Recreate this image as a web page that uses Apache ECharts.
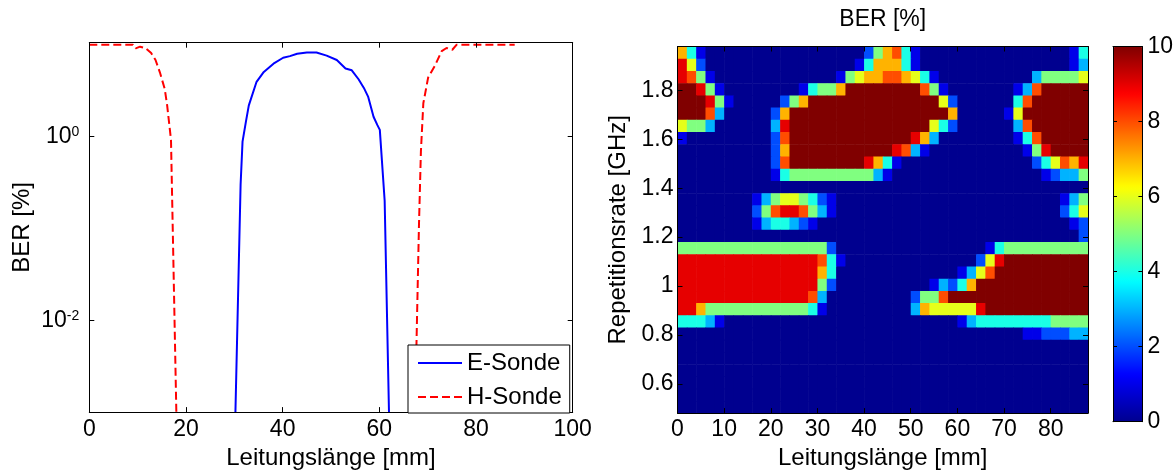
<!DOCTYPE html>
<html>
<head>
<meta charset="utf-8">
<script src="https://cdn.jsdelivr.net/npm/echarts@6/dist/echarts.min.js"></script>
<style>
  html, body { margin: 0; padding: 0; background: #fff; }
  #chart { width: 1176px; height: 475px; }
</style>
</head>
<body>
<div id="chart"></div>
<script>
// BER vs Leitungslänge, E- and H-Sonde (log axis)
var eSondeX = [30.1, 31.3, 31.7, 32.4, 33.0, 34.6, 36.1, 38.1, 40.1, 41.5, 43.0, 45.0, 47.0,
  49.1, 51.2, 53.0, 54.3, 55.7, 56.8, 57.7, 58.8, 59.6, 60.1, 61.1, 62.2];
var eSondeBER = [0.0005, 0.3, 0.88, 1.45, 2.18, 3.94, 5.05, 6.2, 7.2, 7.5, 7.95, 8.2, 8.2,
  7.6, 6.8, 5.5, 5.26, 4.2, 3.38, 2.7, 1.64, 1.33, 1.18, 0.2, 0.0003];
var hSondeX = [0, 2, 4, 6, 8, 9, 9.6, 10.5, 11.6, 12.8, 13.7, 14.6, 15.6, 16.1, 16.9, 18.2,
  40, 67.0, 67.8, 68.2, 68.6, 69.1, 70.1, 71.5, 72.9, 73.9, 75.1, 76.0, 78, 80, 82, 84, 86, 88];
// null = BER 0, nothing drawn on the log axis
var hSondeBER = [10, 10, 10, 10, 10, 10, 9.1, 9.5, 9.2, 8.1, 6.8, 5.0, 3.3, 2.2, 0.92, 0.0003,
  null, 0.0001, 0.011, 0.11, 0.69, 2.3, 4.4, 5.9, 8.5, 9.2, 8.8, 10, 10, 10, 10, 10, 10, 10];
var logTicks = [0.01, 1];

// BER map: cell centres (mm / GHz), one string per row, top row first
// '0'..'9' = BER in %, 'A' = 10 ; spaces only group the columns by ten
var berX = [1, 3, 5, 7, 9, 11, 13, 15, 17, 19, 21, 23, 25, 27, 29, 31, 33, 35, 37, 39, 41, 43,
  45, 47, 49, 51, 53, 55, 57, 59, 61, 63, 65, 67, 69, 71, 73, 75, 77, 79, 81, 83, 85, 87];
var berY = [1.955, 1.905, 1.855, 1.805, 1.755, 1.705, 1.655, 1.605, 1.555, 1.505, 1.455, 1.405,
  1.355, 1.305, 1.255, 1.205, 1.155, 1.105, 1.055, 1.005, 0.955, 0.905, 0.855, 0.805, 0.755,
  0.705, 0.655, 0.605, 0.555, 0.505];
var berRows = [
  '7410000000 0000000000 2578410000 0000000000 0014',
  '9620000000 0000000001 4777410000 0000000000 0013',
  '9851000000 0000000156 7788764100 0000000035 5556',
  'AA95100000 00014557AA AAAAAA8510 000000138A AAAA',
  'AAA9510000 0257AAAAAA AAAAAAAA62 00000048AA AAAA',
  'AAA8300000 27AAAAAAAA AAAAAAAAA7 0000016AAA AAAA',
  '6553000000 39AAAAAAAA AAAAAAA642 00000038AA AAAA',
  '1000000000 28AAAAAAAA AAAAA97300 000000148A AAAA',
  '0000000000 27AAAAAAAA AAA9831000 0000000159 AAAA',
  '0000000000 28AAAAAAAA 9741000000 0000000024 6879',
  '0000000000 1455555555 5310000000 0000000001 2335',
  '0000000000 0000000000 0000000000 0000000000 0000',
  '0000000013 5665421000 0000000000 0000000000 0135',
  '0000000025 8998531000 0000000000 0000000000 0246',
  '0000000013 4432100000 0000000000 0000000000 0012',
  '0000000000 0000000000 0000000000 0000000000 0002',
  '5555555555 5555552000 0000000000 0001455555 5555',
  '9999999999 9999984100 0000000000 00269AAAAA AAAA',
  '9999999999 9999974000 0000000000 1368AAAAAA AAAA',
  '9999999999 9999952000 0000000132 47AAAAAAAA AAAA',
  '9999999999 9999830000 000002558A AAAAAAAAAA AAAA',
  '9975555555 5555410000 0000037666 669AAAAAAA AAAA',
  '4443100000 0000000000 0000000000 1344444444 5555',
  '0000000000 0000000000 0000000000 0000000112 2233',
  '0000000000 0000000000 0000000000 0000000000 0000',
  '0000000000 0000000000 0000000000 0000000000 0000',
  '0000000000 0000000000 0000000000 0000000000 0000',
  '0000000000 0000000000 0000000000 0000000000 0000',
  '0000000000 0000000000 0000000000 0000000000 0000',
  '0000000000 0000000000 0000000000 0000000000 0000'
];
var berXTicks = [0, 10, 20, 30, 40, 50, 60, 70, 80];
var berYTicks = [0.6, 0.8, 1, 1.2, 1.4, 1.6, 1.8];
var cellW = 2, cellH = 0.05;

var jet = ['#00008f', '#0000ff', '#0080ff', '#00ffff', '#80ff80', '#ffff00', '#ff8000', '#ff0000', '#800000'];
var FONT = '"Liberation Sans", Arial, Helvetica, sans-serif';

var heatData = [];
berRows.forEach(function (row, r) {
  var cells = row.replace(/ /g, '');
  for (var c = 0; c < cells.length; c++) {
    var ch = cells.charAt(c);
    heatData.push([berX[c], berY[r], ch === 'A' ? 10 : +ch]);
  }
});

function pairs(xs, ys) {
  return xs.map(function (x, i) { return [x, ys[i] == null ? '-' : ys[i]]; });
}

// plain MATLAB-like axis: black line, ticks pointing inwards
function axis(o) {
  var base = {
    type: 'value',
    axisLine: { show: true, onZero: false, lineStyle: { color: '#000', width: 1 } },
    axisTick: { show: true, inside: true, length: 5, lineStyle: { color: '#000', width: 1 } },
    axisLabel: { show: false, color: '#000', fontSize: 23, fontFamily: FONT },
    splitLine: { show: false },
    nameTextStyle: { color: '#000', fontSize: 24, fontFamily: FONT },
    z: 5
  };
  for (var k in o) {
    if (typeof o[k] === 'object' && base[k] && !Array.isArray(o[k])) {
      base[k] = Object.assign({}, base[k], o[k]);
    } else {
      base[k] = o[k];
    }
  }
  return base;
}

var logLabel = {
  show: true,
  customValues: logTicks,
  margin: 10,
  formatter: function (v) {
    return '{b|10}{s|' + Math.round(Math.log10(v)) + '}';
  },
  rich: {
    b: { fontSize: 23, lineHeight: 23, padding: [6, 0, 0, 0], verticalAlign: 'bottom', color: '#000', fontFamily: FONT },
    s: { fontSize: 14, lineHeight: 14, verticalAlign: 'top', color: '#000', fontFamily: FONT }
  }
};

var chart = echarts.init(document.getElementById('chart'));
chart.setOption({
  animation: false,
  backgroundColor: '#fff',
  title: {
    text: 'BER [%]', left: 882.75, top: 8, textAlign: 'center', padding: 0,
    textStyle: { color: '#000', fontSize: 23, fontWeight: 'normal', fontFamily: FONT }
  },
  legend: {
    data: ['E-Sonde', 'H-Sonde'],
    orient: 'vertical', left: 408, top: 345,
    padding: [6, 8, 4, 9], itemGap: 10, itemWidth: 44, itemHeight: 14,
    borderColor: '#000', borderWidth: 1, backgroundColor: '#fff',
    itemStyle: { opacity: 0 },
    textStyle: { color: '#000', fontSize: 24, fontFamily: FONT },
    z: 10
  },
  grid: [
    { left: 89.3, top: 42.7, width: 483.4, height: 375.6 },
    { left: 677.5, top: 46.5, width: 410.5, height: 371.8 },
    { left: 1113, top: 46.7, width: 30, height: 375 }
  ],
  xAxis: [
    axis({ gridIndex: 0, min: 0, max: 100, interval: 20, position: 'bottom',
      axisLabel: { show: true, margin: 6 },
      name: 'Leitungslänge [mm]', nameLocation: 'middle', nameGap: 32 }),
    axis({ gridIndex: 0, min: 0, max: 100, interval: 20, position: 'top' }),
    axis({ gridIndex: 1, min: 0, max: 88, position: 'bottom',
      axisTick: { customValues: berXTicks },
      axisLabel: { show: true, margin: 5, customValues: berXTicks },
      name: 'Leitungslänge [mm]', nameLocation: 'middle', nameGap: 32 }),
    axis({ gridIndex: 1, min: 0, max: 88, position: 'top',
      axisTick: { customValues: berXTicks } }),
    axis({ gridIndex: 2, min: 0, max: 1, position: 'bottom', axisTick: { show: false }, z: 10 }),
    axis({ gridIndex: 2, min: 0, max: 1, position: 'top', axisTick: { show: false }, z: 10 })
  ],
  yAxis: [
    axis({ gridIndex: 0, type: 'log', logBase: 10, min: 0.001, max: 10.5, position: 'left',
      axisTick: { customValues: logTicks }, axisLabel: logLabel,
      name: 'BER [%]', nameLocation: 'middle', nameGap: 55, nameRotate: 90 }),
    axis({ gridIndex: 0, type: 'log', logBase: 10, min: 0.001, max: 10.5, position: 'right',
      axisTick: { customValues: logTicks } }),
    axis({ gridIndex: 1, min: 0.48, max: 1.98, position: 'left',
      axisTick: { customValues: berYTicks },
      axisLabel: { show: true, margin: 4, customValues: berYTicks },
      name: 'Repetitionsrate [GHz]', nameLocation: 'middle', nameGap: 47, nameRotate: 90 }),
    axis({ gridIndex: 1, min: 0.48, max: 1.98, position: 'right',
      axisTick: { customValues: berYTicks } }),
    axis({ gridIndex: 2, min: 0, max: 10, interval: 2, position: 'right',
      axisTick: { length: 4 }, axisLabel: { show: true, margin: 5 }, z: 10 }),
    axis({ gridIndex: 2, min: 0, max: 10, interval: 2, position: 'left',
      axisTick: { length: 4 }, z: 10 })
  ],
  visualMap: {
    type: 'continuous', min: 0, max: 10, dimension: 2, seriesIndex: 2,
    calculable: false, hoverLink: false, orient: 'vertical',
    left: 1113, top: 46.7, itemWidth: 30, itemHeight: 375, padding: 0,
    text: null,
    inRange: { color: jet }
  },
  series: [
    {
      name: 'E-Sonde', type: 'line', xAxisIndex: 0, yAxisIndex: 0,
      data: pairs(eSondeX, eSondeBER),
      symbol: 'none', showSymbol: false, connectNulls: false,
      lineStyle: { color: '#0000ff', width: 2 }, itemStyle: { color: '#0000ff' }
    },
    {
      name: 'H-Sonde', type: 'line', xAxisIndex: 0, yAxisIndex: 0,
      data: pairs(hSondeX, hSondeBER),
      symbol: 'none', showSymbol: false, connectNulls: false,
      lineStyle: { color: '#ff0000', width: 2, type: [8, 4] }, itemStyle: { color: '#ff0000' }
    },
    {
      name: 'BER', type: 'custom', xAxisIndex: 2, yAxisIndex: 2,
      data: heatData, clip: true,
      encode: { x: 0, y: 1 },
      renderItem: function (params, api) {
        var lt = api.coord([api.value(0) - cellW / 2, api.value(1) + cellH / 2]);
        var rb = api.coord([api.value(0) + cellW / 2, api.value(1) - cellH / 2]);
        return {
          type: 'rect',
          shape: { x: lt[0], y: lt[1], width: rb[0] - lt[0] + 0.6, height: rb[1] - lt[1] + 0.6 },
          style: { fill: api.visual('color') }
        };
      }
    }
  ]
});
</script>
</body>
</html>
